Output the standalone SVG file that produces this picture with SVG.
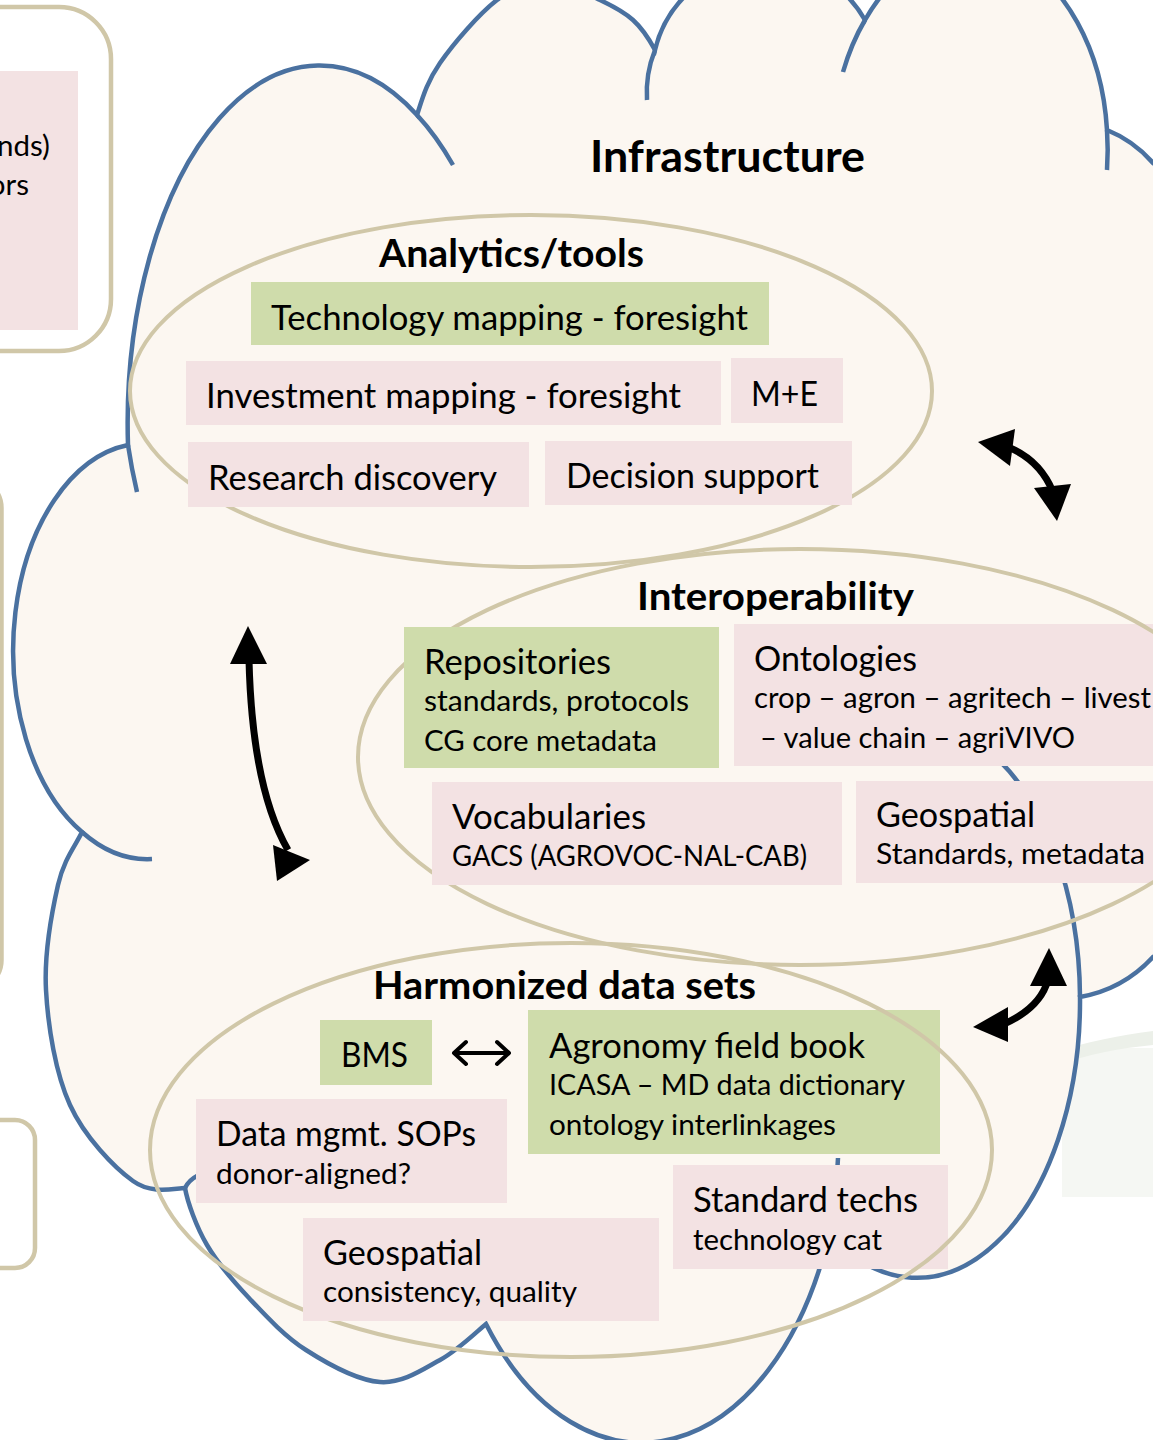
<svg xmlns="http://www.w3.org/2000/svg" width="1153" height="1440" viewBox="0 0 1153 1440">
<style>
.cloud{fill:#FCF7F1;stroke:#4A71A0;stroke-width:4.5}
.cl{fill:none;stroke:#4A71A0;stroke-width:4.5}
.ell{fill:none;stroke:#D0C7A8;stroke-width:4}
.frame{fill:none;stroke:#D0C7A8;stroke-width:4.5}
.g{fill:#CFDCAB}
.p{fill:#F3E2E3}
.t{font-family:Lato,"Liberation Sans",sans-serif;fill:#000}
.m{font-size:34px}
.s{font-size:29.5px}
.h{font-size:39px;font-weight:bold}
.arr{fill:none;stroke:#000;stroke-width:7}
.ah{fill:#000}
.bi{fill:none;stroke:#000;stroke-width:4;stroke-linecap:round;stroke-linejoin:round}
</style>
<rect x="0" y="0" width="1153" height="1440" fill="#FFFFFF"/>
<g id="bg-faint">
<rect x="1062" y="1048" width="100" height="149" fill="#F5F7F3"/>
<path d="M1062,1050 Q1100,1038 1153,1031 L1153,1045 Q1100,1050 1062,1064 Z" fill="#ECF0E9"/>
</g>
<g id="left-frames">
<rect class="frame" x="-60" y="7" width="171" height="344" rx="52"/>
<rect class="p" x="-10" y="71" width="88" height="259"/>
<text class="t s" x="50" y="156" text-anchor="end">nds)</text>
<text class="t s" x="29" y="195" text-anchor="end">ors</text>
<rect class="frame" x="-100" y="478" width="101.5" height="512" rx="30"/>
<rect class="frame" x="-60" y="1120" width="95" height="148" rx="20"/>
</g>
<g id="infrastructure-cloud">
<path class="cloud" d="M128,445 A192,358 0 0 1 417,115 C422.3,98.8 426.7,82.2 440,63 C453.3,43.8 479,13.8 497,0 C515,-13.8 530.8,-20 548,-20 C565.2,-20 585.8,-6.7 600,0 C614.2,6.7 623.8,11.7 633,20 C642.2,28.3 649.2,39.2 655,50 A114,114 0 0 1 865,20 A137,199 0 0 1 1107,130 A120,120 0 0 1 1153,163 L1170,175 L1170,950 L1153,957 A130,130 0 0 1 1080,997 A163,277 0 0 1 829,1234 A200,320 0 0 1 486,1324 C476,1332.3 457.7,1350.3 440,1360 C422.3,1369.7 402.3,1383.7 380,1382 C357.7,1380.3 327.8,1364 306,1350 C284.2,1336 265.5,1315.5 249,1298 C232.5,1280.5 217.7,1263.3 207,1245 C196.3,1226.7 187.5,1202.2 185,1188 C173.8,1188.2 152.2,1194.8 133,1181 C113.8,1167.2 84.5,1136.8 70,1105 C55.5,1073.2 48,1026.7 46,990 C44,953.3 52,911.3 58,885 C64,858.7 75.8,845.3 82,832 A132,207 0 0 1 128,445 Z"/>
<path class="cl" d="M128,445 A192,358 0 0 0 137,492"/>
<path class="cl" d="M417,115 A192,358 0 0 1 453,165"/>
<path class="cl" d="M655,50 A114,114 0 0 0 647,100"/>
<path class="cl" d="M865,20 A137,199 0 0 0 843,72"/>
<path class="cl" d="M1107,130 A137,199 0 0 1 1107,170"/>
<path class="cl" d="M1080,997 A163,277 0 0 0 990,752"/>
<path class="cl" d="M82,832 A132,207 0 0 0 152,859"/>
<path class="cl" d="M185,1188 Q189,1180 197,1176"/>
<path class="cl" d="M829,1234 A200,320 0 0 0 838,1158"/>
<text class="t" x="590" y="172" font-size="44" font-weight="bold" textLength="275" lengthAdjust="spacingAndGlyphs">Infrastructure</text>
</g>
<g id="analytics">
<ellipse class="ell" cx="531" cy="391" rx="401" ry="176"/>
<text class="t h" x="379" y="267" textLength="265" lengthAdjust="spacingAndGlyphs">Analytics/tools</text>
</g>
<g id="tech-mapping">
<rect class="g" x="251" y="282" width="518" height="63"/>
<text class="t m" x="271" y="330" textLength="477" lengthAdjust="spacingAndGlyphs">Technology mapping - foresight</text>
</g>
<g id="investment-mapping">
<rect class="p" x="186" y="361" width="535" height="64"/>
<text class="t m" x="206" y="408" textLength="475" lengthAdjust="spacingAndGlyphs">Investment mapping - foresight</text>
</g>
<g id="m-e">
<rect class="p" x="731" y="358" width="112" height="65"/>
<text class="t m" x="751" y="406" textLength="67" lengthAdjust="spacingAndGlyphs">M+E</text>
</g>
<g id="research-discovery">
<rect class="p" x="188" y="442" width="341" height="65"/>
<text class="t m" x="208" y="490" textLength="289" lengthAdjust="spacingAndGlyphs">Research discovery</text>
</g>
<g id="decision-support">
<rect class="p" x="545" y="441" width="307" height="64"/>
<text class="t m" x="566" y="488" textLength="253" lengthAdjust="spacingAndGlyphs">Decision support</text>
</g>
<g id="ontologies">
<rect class="p" x="734" y="624" width="430" height="142"/>
<text class="t m" x="754" y="671" textLength="163" lengthAdjust="spacingAndGlyphs">Ontologies</text>
<text class="t s" x="754" y="708" textLength="397" lengthAdjust="spacingAndGlyphs">crop – agron – agritech – livest</text>
<text class="t s" x="760" y="748" textLength="315" lengthAdjust="spacingAndGlyphs">– value chain – agriVIVO</text>
</g>
<g id="geospatial-standards">
<rect class="p" x="856" y="781" width="310" height="102"/>
<text class="t m" x="876" y="827" textLength="159" lengthAdjust="spacingAndGlyphs">Geospatial</text>
<text class="t s" x="876" y="864" textLength="269" lengthAdjust="spacingAndGlyphs">Standards, metadata</text>
</g>
<g id="interoperability">
<ellipse class="ell" cx="800" cy="757" rx="442" ry="208"/>
<text class="t h" x="637" y="610" textLength="277" lengthAdjust="spacingAndGlyphs">Interoperability</text>
</g>
<g id="repositories">
<rect class="g" x="404" y="627" width="315" height="141"/>
<text class="t m" x="424" y="674" textLength="187" lengthAdjust="spacingAndGlyphs">Repositories</text>
<text class="t s" x="424" y="711" textLength="265" lengthAdjust="spacingAndGlyphs">standards, protocols</text>
<text class="t s" x="424" y="751" textLength="233" lengthAdjust="spacingAndGlyphs">CG core metadata</text>
</g>
<g id="vocabularies">
<rect class="p" x="432" y="782" width="410" height="103"/>
<text class="t m" x="452" y="829" textLength="194" lengthAdjust="spacingAndGlyphs">Vocabularies</text>
<text class="t s" x="452" y="866" textLength="355" lengthAdjust="spacingAndGlyphs">GACS (AGROVOC-NAL-CAB)</text>
</g>
<g id="agronomy-field-book">
<rect class="g" x="528" y="1010" width="412" height="144"/>
<text class="t m" x="549" y="1058" textLength="316" lengthAdjust="spacingAndGlyphs">Agronomy field book</text>
<text class="t s" x="549" y="1095" textLength="356" lengthAdjust="spacingAndGlyphs">ICASA – MD data dictionary</text>
<text class="t s" x="549" y="1135" textLength="287" lengthAdjust="spacingAndGlyphs">ontology interlinkages</text>
</g>
<g id="standard-techs">
<rect class="p" x="673" y="1165" width="275" height="104"/>
<text class="t m" x="693" y="1212" textLength="225" lengthAdjust="spacingAndGlyphs">Standard techs</text>
<text class="t s" x="693" y="1250" textLength="189" lengthAdjust="spacingAndGlyphs">technology cat</text>
</g>
<g id="harmonized">
<ellipse class="ell" cx="571" cy="1150" rx="421" ry="207"/>
<text class="t h" x="373" y="999" textLength="383" lengthAdjust="spacingAndGlyphs">Harmonized data sets</text>
</g>
<g id="bms">
<rect class="g" x="320" y="1020" width="112" height="65"/>
<text class="t m" x="341" y="1067" textLength="67" lengthAdjust="spacingAndGlyphs">BMS</text>
</g>
<g id="data-mgmt">
<rect class="p" x="196" y="1099" width="311" height="104"/>
<text class="t m" x="216" y="1146" textLength="260" lengthAdjust="spacingAndGlyphs">Data mgmt. SOPs</text>
<text class="t s" x="216" y="1184" textLength="195" lengthAdjust="spacingAndGlyphs">donor-aligned?</text>
</g>
<g id="geospatial-quality">
<rect class="p" x="303" y="1218" width="356" height="103"/>
<text class="t m" x="323" y="1265" textLength="159" lengthAdjust="spacingAndGlyphs">Geospatial</text>
<text class="t s" x="323" y="1302" textLength="254" lengthAdjust="spacingAndGlyphs">consistency, quality</text>
</g>
<g id="connectors">
<path class="arr" d="M249,660 C251,740 262,805 288,850"/>
<polygon class="ah" points="248,626 230,664 267,664"/>
<polygon class="ah" points="310,860 273,845 277,881"/>
<path class="arr" d="M1008,447 Q1040,460 1053,492"/>
<polygon class="ah" points="978,442 1015,429 1010,466"/>
<polygon class="ah" points="1057,521 1034,488 1071,484"/>
<path class="arr" d="M1048,980 Q1040,1008 1004,1024"/>
<polygon class="ah" points="1049,948 1030,986 1067,986"/>
<polygon class="ah" points="973,1027 1008,1007 1008,1042"/>
<path class="bi" d="M454,1053 L509,1053 M466,1042 L454,1053 L466,1064 M497,1042 L509,1053 L497,1064"/>
</g>
</svg>
